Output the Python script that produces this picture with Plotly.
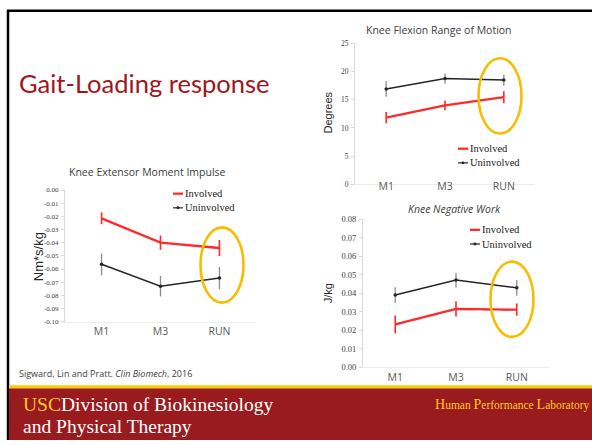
import plotly.graph_objects as go

W, H = 592, 445

categories = ["M1", "M3", "RUN"]

# Knee Extensor Moment Impulse
kemi_inv = [-0.0215, -0.0399, -0.0440]
kemi_inv_err = [0.0045, 0.0054, 0.0060]
kemi_uninv = [-0.0564, -0.0730, -0.0668]
kemi_uninv_err = [0.0083, 0.0078, 0.0083]
kemi_ticks = [0.00, -0.01, -0.02, -0.03, -0.04, -0.05, -0.06, -0.07, -0.08, -0.09, -0.10]

# Knee Flexion Range of Motion
rom_inv = [11.8, 14.0, 15.45]
rom_inv_err = [1.0, 0.87, 1.07]
rom_uninv = [16.9, 18.75, 18.5]
rom_uninv_err = [1.36, 0.9, 1.0]
rom_ticks = [0, 5, 10, 15, 20, 25]

# Knee Negative Work
nw_inv = [0.0232, 0.0316, 0.0311]
nw_inv_err = [0.0048, 0.0041, 0.0033]
nw_uninv = [0.0390, 0.0471, 0.0429]
nw_uninv_err = [0.0042, 0.0040, 0.0042]
nw_shadow = [0.0228, 0.0311, 0.0305]
nw_ticks = [0.00, 0.01, 0.02, 0.03, 0.04, 0.05, 0.06, 0.07, 0.08]

RED = "#ff2a2a"
BLACK = "#262626"
EBLACK = "#8c8c8c"
GOLD = "#f6be00"
MAROON = "#991b1e"


def px(x):
    return x / W


def py(y):
    return 1 - y / H


fig = go.Figure()


def add_pair(inv, inv_err, uninv, uninv_err, xa, ya):
    fig.add_trace(go.Scatter(
        x=categories, y=uninv, mode="lines+markers", xaxis=xa, yaxis=ya,
        line=dict(color=BLACK, width=1.5), marker=dict(size=3.5, color=BLACK),
        error_y=dict(type="data", array=uninv_err, color=EBLACK, thickness=1.3, width=0),
        showlegend=False, name="Uninvolved"))
    fig.add_trace(go.Scatter(
        x=categories, y=inv, mode="lines", xaxis=xa, yaxis=ya,
        line=dict(color=RED, width=2.3),
        error_y=dict(type="data", array=inv_err, color=RED, thickness=1.6, width=0),
        showlegend=False, name="Involved"))


add_pair(kemi_inv, kemi_inv_err, kemi_uninv, kemi_uninv_err, "x", "y")
add_pair(rom_inv, rom_inv_err, rom_uninv, rom_uninv_err, "x2", "y2")
fig.add_trace(go.Scatter(
    x=categories, y=nw_shadow, mode="lines", xaxis="x3", yaxis="y3",
    line=dict(color="#9dc3e6", width=1, dash="dash"), showlegend=False, hoverinfo="skip"))
add_pair(nw_inv, nw_inv_err, nw_uninv, nw_uninv_err, "x3", "y3")

tickfont_serif = dict(family="Liberation Serif", color="#404040")
catfont = dict(family="Open Sans", size=10.5, color="#595959")


def xaxis(dom, anchor, rng, standoff=0):
    return dict(domain=dom, anchor=anchor, range=rng, type="category",
                showgrid=False, zeroline=False, showline=True, linecolor="#ececec",
                linewidth=1, ticks="", tickfont=catfont, ticklabelstandoff=standoff,
                fixedrange=True)


def yaxis(dom, anchor, rng, tickvals, fmt, size):
    return dict(domain=dom, anchor=anchor, range=rng, tickvals=tickvals,
                ticktext=[format(v, fmt) for v in tickvals],
                showgrid=False, zeroline=False, showline=True,
                linecolor="#d9d9d9", linewidth=1, ticks="outside", ticklen=3,
                tickcolor="#d9d9d9", tickfont=dict(tickfont_serif, size=size),
                ticklabelstandoff=1, fixedrange=True)


layout = dict(
    width=W, height=H, margin=dict(l=0, r=0, t=0, b=0),
    paper_bgcolor="white", plot_bgcolor="rgba(0,0,0,0)", showlegend=False,
    xaxis=xaxis([px(65), px(256)], "y", [-0.62, 2.62], 0),
    yaxis=yaxis([py(324), py(189.3)], "x", [-0.10, 0.0], kemi_ticks, ".2f", 7),
    xaxis2=xaxis([px(355), px(535)], "y2", [-0.53, 2.53], -8),
    yaxis2=yaxis([py(183.3), py(39.3)], "x2", [0, 25], rom_ticks, "d", 7.5),
    xaxis3=xaxis([px(363), px(549)], "y3", [-0.53, 2.53], 0),
    yaxis3=yaxis([py(370.7), py(219)], "x3", [0, 0.08], nw_ticks, ".2f", 8.5),
)
fig.update_layout(**layout)

shapes = []
annotations = []

# slide frame
shapes.append(dict(type="line", xref="paper", yref="paper", x0=px(8), x1=px(8), y0=py(5), y1=py(445),
                   line=dict(color="black", width=2.5)))
shapes.append(dict(type="line", xref="paper", yref="paper", x0=px(7), x1=px(592), y0=py(6), y1=py(6),
                   line=dict(color="black", width=2.5)))
# footer
shapes.append(dict(type="rect", xref="paper", yref="paper", x0=px(9), x1=px(592), y0=py(445), y1=py(392),
                   fillcolor=MAROON, line=dict(width=0), layer="above"))
shapes.append(dict(type="rect", xref="paper", yref="paper", x0=px(9), x1=px(592), y0=py(392), y1=py(389),
                   fillcolor="#ffcc00", line=dict(width=0), layer="above"))

# highlight ellipses
for cx, cy in [(222, 266), (500, 93), (512, 301)]:
    shapes.append(dict(type="circle", xref="paper", yref="paper",
                       x0=px(cx - 21.5), x1=px(cx + 21.5), y0=py(cy + 38.5), y1=py(cy - 38.5),
                       line=dict(color=GOLD, width=2.6), layer="above"))

# manual legends
for lx, ly in [(173, 193), (458, 147), (470, 230)]:
    shapes.append(dict(type="line", xref="paper", yref="paper", x0=px(lx), x1=px(lx + 10),
                       y0=py(ly), y1=py(ly), line=dict(color=RED, width=2.3)))
    shapes.append(dict(type="line", xref="paper", yref="paper", x0=px(lx), x1=px(lx + 10),
                       y0=py(ly + 14.5), y1=py(ly + 14.5), line=dict(color=BLACK, width=1.2)))
    shapes.append(dict(type="circle", xref="paper", yref="paper", x0=px(lx + 3.5), x1=px(lx + 6.5),
                       y0=py(ly + 16), y1=py(ly + 13), fillcolor=BLACK, line=dict(width=0)))
    for txt, dy in [("Involved", 0), ("Uninvolved", 14.5)]:
        annotations.append(dict(text=txt, xref="paper", yref="paper", x=px(lx + 10), y=py(ly + dy),
                                xanchor="left", yanchor="middle", showarrow=False,
                                font=dict(family="Liberation Serif", size=10.5, color="#1a1a1a")))

# chart titles
for txt, cx, cy, italic in [("Knee Extensor Moment Impulse", 147, 171, False),
                            ("Knee Flexion Range of Motion", 439, 26, False),
                            ("Knee Negative Work", 454, 209, True)]:
    annotations.append(dict(text=(f"<i>{txt}</i>" if italic else txt), xref="paper", yref="paper",
                            x=px(cx), y=py(cy), xanchor="center", yanchor="middle", showarrow=False,
                            font=dict(family="Open Sans", size=10.5, color="#404040")))

# y-axis titles
for txt, cx, cy, size in [("Nm*s/kg", 38, 258, 13), ("Degrees", 328, 110, 11), ("J/kg", 328, 295, 11)]:
    annotations.append(dict(text=txt, xref="paper", yref="paper", x=px(cx), y=py(cy),
                            xanchor="center", yanchor="middle", textangle=-90, showarrow=False,
                            font=dict(family="Liberation Sans", size=size, color="#262626")))

# slide title
annotations.append(dict(text="Gait-Loading response", xref="paper", yref="paper", x=px(17), y=py(80),
                        xanchor="left", yanchor="middle", showarrow=False,
                        font=dict(family="Lato", size=25.5, color="#a0161c")))

# citation
annotations.append(dict(text="Sigward, Lin and Pratt. <i>Clin Biomech</i>, 2016", xref="paper", yref="paper",
                        x=px(17), y=py(377), xanchor="left", yanchor="middle", showarrow=False,
                        font=dict(family="Open Sans", size=9, color="#404040")))

# footer text
annotations.append(dict(text="<span style='color:#ffc72c'>USC</span>Division of Biokinesiology",
                        xref="paper", yref="paper", x=px(21), y=py(409), xanchor="left", yanchor="middle",
                        showarrow=False, font=dict(family="Liberation Serif", size=19.5, color="white")))
annotations.append(dict(text="and Physical Therapy",
                        xref="paper", yref="paper", x=px(21), y=py(431), xanchor="left", yanchor="middle",
                        showarrow=False, font=dict(family="Liberation Serif", size=19.5, color="white")))
annotations.append(dict(text="<span style='font-size:14px'>H</span>uman <span style='font-size:14px'>P</span>erformance <span style='font-size:14px'>L</span>aboratory",
                        xref="paper", yref="paper", x=px(591), y=py(409), xanchor="right", yanchor="middle",
                        showarrow=False, font=dict(family="Liberation Serif", size=11.5, color="#ffc72c")))

fig.update_layout(shapes=shapes, annotations=annotations)
fig.write_html("out.html", config={"displayModeBar": False},
               post_script="document.body.style.margin='0px';document.body.style.padding='0px';"
                           "document.documentElement.style.overflow='hidden';")
